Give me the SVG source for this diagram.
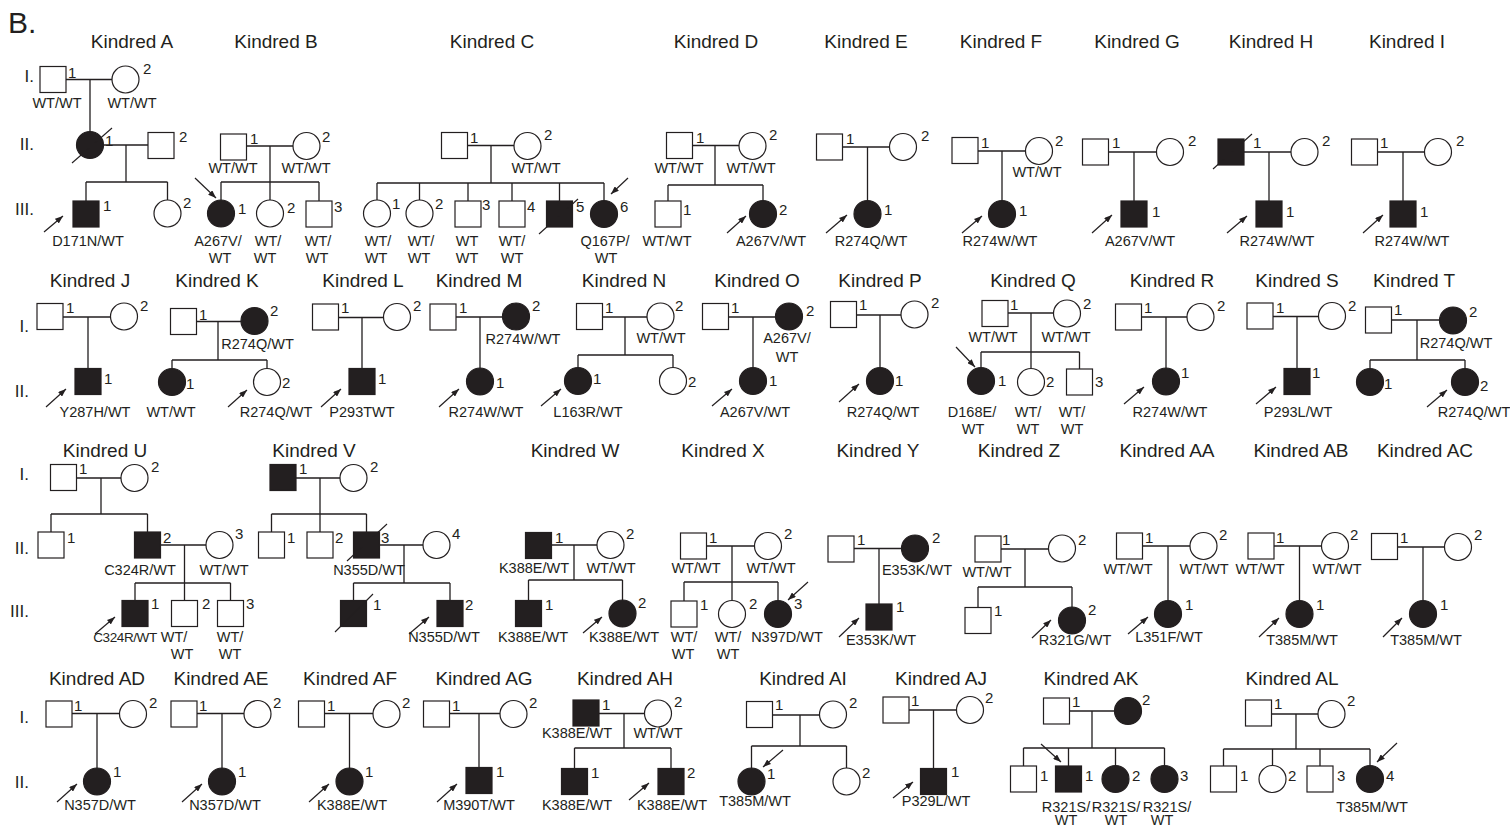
<svg xmlns="http://www.w3.org/2000/svg" width="1510" height="827" viewBox="0 0 1510 827">
<defs>
<style>
.s{fill:#fff;stroke:#231f20;stroke-width:1.2}
.f{fill:#231f20;stroke:#231f20;stroke-width:1.2}
.l{stroke:#231f20;stroke-width:1.3;fill:none}
.d{stroke:#231f20;stroke-width:1.1;fill:none}
.a{stroke:#231f20;stroke-width:1.2;fill:none;marker-end:url(#ah)}
text{font-family:"Liberation Sans",Arial,sans-serif;fill:#231f20}
.t{font-size:19px;text-anchor:middle}
.g{font-size:14.5px;text-anchor:middle}
.n{font-size:15px}
.v{font-size:17px;text-anchor:end}
</style>
<marker id="ah" markerWidth="8" markerHeight="6" refX="8" refY="3" orient="auto" markerUnits="userSpaceOnUse"><path d="M0,0 L8,3 L0,6 z" fill="#231f20"/></marker>
</defs>
<rect width="1510" height="827" fill="#fff"/>

<g id="labels">
<text x="8" y="33" style="font-size:30px">B.</text>
<text class="v" x="34" y="82">I.</text><text class="v" x="34" y="150">II.</text><text class="v" x="34" y="215">III.</text>
<text class="v" x="29" y="332">I.</text><text class="v" x="29" y="397">II.</text>
<text class="v" x="29" y="480">I.</text><text class="v" x="29" y="554">II.</text><text class="v" x="29" y="617">III.</text>
<text class="v" x="29" y="723">I.</text><text class="v" x="29" y="788">II.</text>
<text class="t" x="132" y="48">Kindred A</text><text class="t" x="276" y="48">Kindred B</text><text class="t" x="492" y="48">Kindred C</text><text class="t" x="716" y="48">Kindred D</text><text class="t" x="866" y="48">Kindred E</text><text class="t" x="1001" y="48">Kindred F</text><text class="t" x="1137" y="48">Kindred G</text><text class="t" x="1271" y="48">Kindred H</text><text class="t" x="1407" y="48">Kindred I</text>
<text class="t" x="90" y="287">Kindred J</text><text class="t" x="217" y="287">Kindred K</text><text class="t" x="363" y="287">Kindred L</text><text class="t" x="479" y="287">Kindred M</text><text class="t" x="624" y="287">Kindred N</text><text class="t" x="757" y="287">Kindred O</text><text class="t" x="880" y="287">Kindred P</text><text class="t" x="1033" y="287">Kindred Q</text><text class="t" x="1172" y="287">Kindred R</text><text class="t" x="1297" y="287">Kindred S</text><text class="t" x="1414" y="287">Kindred T</text>
<text class="t" x="105" y="457">Kindred U</text><text class="t" x="314" y="457">Kindred V</text><text class="t" x="575" y="457">Kindred W</text><text class="t" x="723" y="457">Kindred X</text><text class="t" x="878" y="457">Kindred Y</text><text class="t" x="1019" y="457">Kindred Z</text><text class="t" x="1167" y="457">Kindred AA</text><text class="t" x="1301" y="457">Kindred AB</text><text class="t" x="1425" y="457">Kindred AC</text>
<text class="t" x="97" y="685">Kindred AD</text><text class="t" x="221" y="685">Kindred AE</text><text class="t" x="350" y="685">Kindred AF</text><text class="t" x="484" y="685">Kindred AG</text><text class="t" x="625" y="685">Kindred AH</text><text class="t" x="803" y="685">Kindred AI</text><text class="t" x="941" y="685">Kindred AJ</text><text class="t" x="1091" y="685">Kindred AK</text><text class="t" x="1292" y="685">Kindred AL</text>
</g>

<g id="connectors">
<path class="l" d="M66 79.5H112M90 79.5V131.5M103.5 145H148M126 145V182M86 182H167.5M86 182V201M167.5 182V200"/>
<path class="l" d="M246.5 146H293M270 146V182M221 182H319M221 182V200M270 182V200M319 182V201"/>
<path class="l" d="M467.5 145.5H514M491 145.5V183M377 183H604M377 183V200M419.5 183V200M468 183V201M512 183V201M559.5 183V201M604 183V200.5"/>
<path class="l" d="M692.5 145.5H739M715 145.5V185M668 185H763M668 185V201M763 185V200.5"/>
<path class="l" d="M842.5 147H889.5M867.5 147V200.5"/>
<path class="l" d="M978 151H1025.5M1002 151V200.5"/>
<path class="l" d="M1108.5 152H1156.5M1134 152V201"/>
<path class="l" d="M1244 152H1291M1269 152V201"/>
<path class="l" d="M1377.5 152H1424.5M1403 152V201"/>
<path class="l" d="M63 317H110.5M88 317V368.5"/>
<path class="l" d="M196.5 321.5H241M218 321.5V360M172 360H267M172 360V368.5M267 360V368.5"/>
<path class="l" d="M338.5 317.5H383.5M362 317.5V368.5"/>
<path class="l" d="M456 317H502.5M480 317V368"/>
<path class="l" d="M602.5 317H647M625 317V355M578 355H673M578 355V367.5M673 355V367.5"/>
<path class="l" d="M728.5 317H775.5M753 317V367.5"/>
<path class="l" d="M856.5 315H901M880 315V367.5"/>
<path class="l" d="M1008 313H1053.5M1031 313V368.5M981 352H1079.5M981 352V367.5M1079.5 352V369"/>
<path class="l" d="M1141.5 317H1187M1166 317V368"/>
<path class="l" d="M1273 316.5H1318.5M1297 316.5V368.5"/>
<path class="l" d="M1391.5 320H1439.5M1417 320V360M1370 360H1465M1370 360V368.5M1465 360V368.5"/>
<path class="l" d="M76.5 478H121M101 478V514M51 514H147.5M51 514V532M147.5 514V532M160.5 545H206M184.5 545V600.5M135 583H230.5M135 583V600.5M230.5 583V600.5"/>
<path class="l" d="M296 478H340M320 478V532M271.5 514H366.5M271.5 514V532M366.5 514V532M379.5 545H423M404 545V583M353.5 583H450M353.5 583V600.5M450 583V600.5"/>
<path class="l" d="M551.5 545H597M574 545V580M528.5 580H622.5M528.5 580V600.5M622.5 580V600"/>
<path class="l" d="M706.5 546H754.5M732 546V600.5M684 582H778M684 582V601M778 582V600.5"/>
<path class="l" d="M854 548.5H901.5M879 548.5V604"/>
<path class="l" d="M1001 549H1048.5M1025 549V587M978 587H1072M978 587V607.5M1072 587V607"/>
<path class="l" d="M1142.5 546H1190M1168 546V600.5"/>
<path class="l" d="M1274 546H1321.5M1299.5 546V600.5"/>
<path class="l" d="M1397.5 547H1444.5M1423 547V600.5"/>
<path class="l" d="M72 713.5H119.5M97 713.5V768"/>
<path class="l" d="M197 713.5H244M222 713.5V768"/>
<path class="l" d="M324.5 713.5H373M349.5 713.5V768"/>
<path class="l" d="M449.5 713.5H500M479 713.5V767.5"/>
<path class="l" d="M599 713.5H644.5M624 713.5V748M574.5 748H671M574.5 748V768.5M671 748V768.5"/>
<path class="l" d="M772.5 715H819.5M800 715V746M751.5 746H846.5M751.5 746V768M846.5 746V768"/>
<path class="l" d="M909 710H956.5M933.5 710V768.5"/>
<path class="l" d="M1069.5 711H1114.5M1092 711V748M1023.5 748H1164.5M1023.5 748V766M1068.5 748V766M1115.5 748V765.5M1164.5 748V765.5"/>
<path class="l" d="M1271.5 714H1318M1296 714V749M1223.5 749H1370M1223.5 749V766M1272.5 749V765.5M1320 749V766M1370 749V765.5"/>
<g id="arrows">
<line class="a" x1="44" y1="232" x2="63" y2="216"/><line class="a" x1="195" y1="178" x2="216" y2="198"/><line class="a" x1="628" y1="178" x2="611" y2="194"/><line class="a" x1="727" y1="233" x2="746" y2="216"/><line class="a" x1="826" y1="233" x2="847" y2="215"/><line class="a" x1="962" y1="233" x2="982" y2="216"/><line class="a" x1="1092" y1="233" x2="1112" y2="215"/><line class="a" x1="1227" y1="233" x2="1247" y2="216"/><line class="a" x1="1363" y1="233" x2="1383" y2="215"/>
<line class="a" x1="46" y1="407" x2="66" y2="389"/><line class="a" x1="228" y1="407" x2="247" y2="390"/><line class="a" x1="321" y1="407" x2="341" y2="389"/><line class="a" x1="439" y1="407" x2="459" y2="389"/><line class="a" x1="541" y1="406" x2="561" y2="389"/><line class="a" x1="712" y1="406" x2="732" y2="389"/><line class="a" x1="839" y1="402" x2="859" y2="384"/><line class="a" x1="956" y1="347" x2="975" y2="367"/><line class="a" x1="1124" y1="404" x2="1144" y2="387"/><line class="a" x1="1256" y1="404" x2="1276" y2="387"/><line class="a" x1="1427" y1="407" x2="1447" y2="390"/>
<line class="a" x1="95" y1="634" x2="115" y2="617"/><line class="a" x1="409" y1="634" x2="429" y2="617"/><line class="a" x1="583" y1="633" x2="602" y2="617"/><line class="a" x1="808" y1="582" x2="788" y2="600"/><line class="a" x1="839" y1="637" x2="859" y2="618"/><line class="a" x1="1032" y1="638" x2="1051" y2="620"/><line class="a" x1="1128" y1="634" x2="1148" y2="617"/><line class="a" x1="1259" y1="637" x2="1279" y2="618"/><line class="a" x1="1383" y1="637" x2="1402" y2="618"/>
<line class="a" x1="57" y1="802" x2="77" y2="784"/><line class="a" x1="182" y1="802" x2="202" y2="784"/><line class="a" x1="309" y1="802" x2="329" y2="784"/><line class="a" x1="437" y1="802" x2="457" y2="784"/><line class="a" x1="629" y1="800" x2="649" y2="783"/><line class="a" x1="783" y1="750" x2="763" y2="767"/><line class="a" x1="893" y1="798" x2="913" y2="782"/><line class="a" x1="1041" y1="744" x2="1061" y2="762"/><line class="a" x1="1397" y1="743" x2="1377" y2="762"/>
</g>
</g>

<g id="nodes">
<!-- Kindred A -->
<g id="A-I1"><rect class="s" x="40" y="66.5" width="26" height="26"/><text class="n" x="68" y="78">1</text><text class="g" x="57" y="108">WT/WT</text></g>
<g id="A-I2"><circle class="s" cx="125.5" cy="79.5" r="13.5"/><text class="n" x="143" y="74">2</text><text class="g" x="132" y="108">WT/WT</text></g>
<g id="A-II1"><circle class="f" cx="90" cy="145" r="13.5"/><line class="d" x1="72" y1="163" x2="112" y2="128"/><text class="n" x="105" y="146">1</text></g>
<g id="A-II2"><rect class="s" x="148" y="132.5" width="26" height="26"/><text class="n" x="179" y="142">2</text></g>
<g id="A-III1"><rect class="f" x="73" y="201" width="26" height="26"/><text class="n" x="103" y="211">1</text><text class="g" x="88" y="246">D171N/WT</text></g>
<g id="A-III2"><circle class="s" cx="167.5" cy="213.5" r="13.5"/><text class="n" x="183" y="208">2</text></g>
<!-- Kindred B -->
<g id="B-II1"><rect class="s" x="220.5" y="134" width="26" height="26"/><text class="n" x="250" y="144">1</text><text class="g" x="233" y="173">WT/WT</text></g>
<g id="B-II2"><circle class="s" cx="306.5" cy="146" r="13.5"/><text class="n" x="322" y="142">2</text><text class="g" x="306" y="173">WT/WT</text></g>
<g id="B-III1"><circle class="f" cx="221" cy="213.5" r="13.5"/><text class="n" x="238" y="214">1</text><text class="g" x="218" y="246">A267V/</text><text class="g" x="220" y="263">WT</text></g>
<g id="B-III2"><circle class="s" cx="270" cy="213.5" r="13.5"/><text class="n" x="287" y="213">2</text><text class="g" x="268" y="246">WT/</text><text class="g" x="265" y="263">WT</text></g>
<g id="B-III3"><rect class="s" x="306" y="201" width="26" height="26"/><text class="n" x="334" y="212">3</text><text class="g" x="318" y="246">WT/</text><text class="g" x="317" y="263">WT</text></g>
<!-- Kindred C -->
<g id="C-II1"><rect class="s" x="441.5" y="132.5" width="26" height="26"/><text class="n" x="470" y="143">1</text></g>
<g id="C-II2"><circle class="s" cx="527.5" cy="146" r="13.5"/><text class="n" x="544" y="140">2</text><text class="g" x="536" y="173">WT/WT</text></g>
<g id="C-III1"><circle class="s" cx="377" cy="213.5" r="13.5"/><text class="n" x="392" y="209">1</text><text class="g" x="378" y="246">WT/</text><text class="g" x="376" y="263">WT</text></g>
<g id="C-III2"><circle class="s" cx="419.5" cy="213.5" r="13.5"/><text class="n" x="435" y="209">2</text><text class="g" x="421" y="246">WT/</text><text class="g" x="419" y="263">WT</text></g>
<g id="C-III3"><rect class="s" x="455" y="201" width="26" height="26"/><text class="n" x="482" y="210">3</text><text class="g" x="467" y="246">WT</text><text class="g" x="467" y="263">WT</text></g>
<g id="C-III4"><rect class="s" x="499" y="201" width="26" height="26"/><text class="n" x="527" y="212">4</text><text class="g" x="512" y="246">WT/</text><text class="g" x="512" y="263">WT</text></g>
<g id="C-III5"><rect class="f" x="546.5" y="201" width="26" height="26"/><line class="d" x1="539" y1="234" x2="578" y2="199"/><text class="n" x="576" y="212">5</text></g>
<g id="C-III6"><circle class="f" cx="604" cy="214" r="13.5"/><text class="n" x="620" y="212">6</text><text class="g" x="605" y="246">Q167P/</text><text class="g" x="606" y="263">WT</text></g>
<!-- Kindred D -->
<g id="D-II1"><rect class="s" x="666.5" y="132.5" width="26" height="26"/><text class="n" x="696" y="143">1</text><text class="g" x="679" y="173">WT/WT</text></g>
<g id="D-II2"><circle class="s" cx="752.5" cy="146" r="13.5"/><text class="n" x="769" y="140">2</text><text class="g" x="751" y="173">WT/WT</text></g>
<g id="D-III1"><rect class="s" x="655" y="201" width="26" height="26"/><text class="n" x="683" y="215">1</text><text class="g" x="667" y="246">WT/WT</text></g>
<g id="D-III2"><circle class="f" cx="763" cy="214" r="13.5"/><text class="n" x="779" y="215">2</text><text class="g" x="771" y="246">A267V/WT</text></g>
<!-- Kindred E -->
<g id="E-II1"><rect class="s" x="816.5" y="134" width="26" height="26"/><text class="n" x="846" y="144">1</text></g>
<g id="E-II2"><circle class="s" cx="903" cy="147" r="13.5"/><text class="n" x="921" y="141">2</text></g>
<g id="E-III1"><circle class="f" cx="867.5" cy="214" r="13.5"/><text class="n" x="884" y="215">1</text><text class="g" x="871" y="246">R274Q/WT</text></g>
<!-- Kindred F -->
<g id="F-II1"><rect class="s" x="952" y="137.5" width="26" height="26"/><text class="n" x="981" y="148">1</text></g>
<g id="F-II2"><circle class="s" cx="1039" cy="151" r="13.5"/><text class="n" x="1055" y="146">2</text><text class="g" x="1037" y="177">WT/WT</text></g>
<g id="F-III1"><circle class="f" cx="1002" cy="214" r="13.5"/><text class="n" x="1019" y="216">1</text><text class="g" x="1000" y="246">R274W/WT</text></g>
<!-- Kindred G -->
<g id="G-II1"><rect class="s" x="1082.5" y="139" width="26" height="26"/><text class="n" x="1112" y="148">1</text></g>
<g id="G-II2"><circle class="s" cx="1170" cy="152" r="13.5"/><text class="n" x="1188" y="146">2</text></g>
<g id="G-III1"><rect class="f" x="1121" y="201" width="26" height="26"/><text class="n" x="1152" y="217">1</text><text class="g" x="1140" y="246">A267V/WT</text></g>
<!-- Kindred H -->
<g id="H-II1"><rect class="f" x="1218" y="139" width="26" height="26"/><line class="d" x1="1213" y1="169" x2="1252" y2="134"/><text class="n" x="1253" y="148">1</text></g>
<g id="H-II2"><circle class="s" cx="1304.5" cy="152" r="13.5"/><text class="n" x="1322" y="146">2</text></g>
<g id="H-III1"><rect class="f" x="1256" y="201" width="26" height="26"/><text class="n" x="1286" y="217">1</text><text class="g" x="1277" y="246">R274W/WT</text></g>
<!-- Kindred I -->
<g id="I-II1"><rect class="s" x="1351.5" y="139" width="26" height="26"/><text class="n" x="1380" y="148">1</text></g>
<g id="I-II2"><circle class="s" cx="1438" cy="152" r="13.5"/><text class="n" x="1456" y="146">2</text></g>
<g id="I-III1"><rect class="f" x="1390" y="201" width="26" height="26"/><text class="n" x="1420" y="217">1</text><text class="g" x="1412" y="246">R274W/WT</text></g>
<!-- Kindred J -->
<g id="J-I1"><rect class="s" x="37" y="303.5" width="26" height="26"/><text class="n" x="66" y="313">1</text></g>
<g id="J-I2"><circle class="s" cx="124" cy="316.5" r="13.5"/><text class="n" x="140" y="311">2</text></g>
<g id="J-II1"><rect class="f" x="75" y="368.5" width="26" height="26"/><text class="n" x="104" y="384">1</text><text class="g" x="95" y="417">Y287H/WT</text></g>
<!-- Kindred K -->
<g id="K-I1"><rect class="s" x="170.5" y="308.5" width="26" height="26"/><text class="n" x="199" y="320">1</text></g>
<g id="K-I2"><circle class="f" cx="254.5" cy="321" r="13.5"/><text class="n" x="270" y="316">2</text><text class="g" x="257.5" y="349">R274Q/WT</text></g>
<g id="K-II1"><circle class="f" cx="172" cy="382" r="13.5"/><text class="n" x="186" y="389">1</text><text class="g" x="171" y="417">WT/WT</text></g>
<g id="K-II2"><circle class="s" cx="267" cy="382" r="13.5"/><text class="n" x="282" y="388">2</text><text class="g" x="276" y="417">R274Q/WT</text></g>
<!-- Kindred L -->
<g id="L-I1"><rect class="s" x="312.5" y="304" width="26" height="26"/><text class="n" x="341" y="313">1</text></g>
<g id="L-I2"><circle class="s" cx="397" cy="317" r="13.5"/><text class="n" x="413" y="311">2</text></g>
<g id="L-II1"><rect class="f" x="349" y="368.5" width="26" height="26"/><text class="n" x="378" y="384">1</text><text class="g" x="362" y="417">P293TWT</text></g>
<!-- Kindred M -->
<g id="M-I1"><rect class="s" x="430" y="304" width="26" height="26"/><text class="n" x="459" y="313">1</text></g>
<g id="M-I2"><circle class="f" cx="516" cy="316.5" r="13.5"/><text class="n" x="532" y="311">2</text><text class="g" x="523" y="344">R274W/WT</text></g>
<g id="M-II1"><circle class="f" cx="480" cy="381.5" r="13.5"/><text class="n" x="496" y="388">1</text><text class="g" x="486" y="417">R274W/WT</text></g>
<!-- Kindred N -->
<g id="N-I1"><rect class="s" x="576.5" y="303.5" width="26" height="26"/><text class="n" x="605" y="313">1</text></g>
<g id="N-I2"><circle class="s" cx="660.5" cy="316.5" r="13.5"/><text class="n" x="675" y="311">2</text><text class="g" x="661" y="343">WT/WT</text></g>
<g id="N-II1"><circle class="f" cx="578" cy="381" r="13.5"/><text class="n" x="593" y="384">1</text><text class="g" x="588" y="417">L163R/WT</text></g>
<g id="N-II2"><circle class="s" cx="673" cy="381" r="13.5"/><text class="n" x="688" y="387">2</text></g>
<!-- Kindred O -->
<g id="O-I1"><rect class="s" x="702.5" y="303.5" width="26" height="26"/><text class="n" x="731" y="313">1</text></g>
<g id="O-I2"><circle class="f" cx="789" cy="316.5" r="13.5"/><text class="n" x="806" y="316">2</text><text class="g" x="787" y="343">A267V/</text><text class="g" x="787" y="362">WT</text></g>
<g id="O-II1"><circle class="f" cx="753" cy="381" r="13.5"/><text class="n" x="769" y="386">1</text><text class="g" x="755" y="417">A267V/WT</text></g>
<!-- Kindred P -->
<g id="P-I1"><rect class="s" x="830.5" y="301.5" width="26" height="26"/><text class="n" x="859" y="310">1</text></g>
<g id="P-I2"><circle class="s" cx="914.5" cy="314.5" r="13.5"/><text class="n" x="931" y="308">2</text></g>
<g id="P-II1"><circle class="f" cx="880" cy="381" r="13.5"/><text class="n" x="895" y="386">1</text><text class="g" x="883" y="417">R274Q/WT</text></g>
<!-- Kindred Q -->
<g id="Q-I1"><rect class="s" x="982" y="300.5" width="26" height="26"/><text class="n" x="1010" y="310">1</text><text class="g" x="993" y="342">WT/WT</text></g>
<g id="Q-I2"><circle class="s" cx="1067" cy="313.5" r="13.5"/><text class="n" x="1083" y="309">2</text><text class="g" x="1066" y="342">WT/WT</text></g>
<g id="Q-II1"><circle class="f" cx="981" cy="381" r="13.5"/><text class="n" x="998" y="386">1</text><text class="g" x="972" y="417">D168E/</text><text class="g" x="973" y="434">WT</text></g>
<g id="Q-II2"><circle class="s" cx="1031" cy="382" r="13.5"/><text class="n" x="1046" y="387">2</text><text class="g" x="1028" y="417">WT/</text><text class="g" x="1028" y="434">WT</text></g>
<g id="Q-II3"><rect class="s" x="1066.5" y="369" width="26" height="26"/><text class="n" x="1095" y="387">3</text><text class="g" x="1072" y="417">WT/</text><text class="g" x="1072" y="434">WT</text></g>
<!-- Kindred R -->
<g id="R-I1"><rect class="s" x="1115.5" y="304" width="26" height="26"/><text class="n" x="1144" y="313">1</text></g>
<g id="R-I2"><circle class="s" cx="1200.5" cy="317" r="13.5"/><text class="n" x="1217" y="311">2</text></g>
<g id="R-II1"><circle class="f" cx="1166" cy="381.5" r="13.5"/><text class="n" x="1181" y="378">1</text><text class="g" x="1170" y="417">R274W/WT</text></g>
<!-- Kindred S -->
<g id="S-I1"><rect class="s" x="1247" y="303" width="26" height="26"/><text class="n" x="1276" y="313">1</text></g>
<g id="S-I2"><circle class="s" cx="1332" cy="316" r="13.5"/><text class="n" x="1348" y="311">2</text></g>
<g id="S-II1"><rect class="f" x="1284" y="368.5" width="26" height="26"/><text class="n" x="1312" y="378">1</text><text class="g" x="1298" y="417">P293L/WT</text></g>
<!-- Kindred T -->
<g id="T-I1"><rect class="s" x="1365.5" y="307" width="26" height="26"/><text class="n" x="1394" y="315">1</text></g>
<g id="T-I2"><circle class="f" cx="1453" cy="320.5" r="13.5"/><text class="n" x="1469" y="317">2</text><text class="g" x="1456" y="348">R274Q/WT</text></g>
<g id="T-II1"><circle class="f" cx="1370" cy="382" r="13.5"/><text class="n" x="1384" y="389">1</text></g>
<g id="T-II2"><circle class="f" cx="1465" cy="382" r="13.5"/><text class="n" x="1480" y="391">2</text><text class="g" x="1474" y="417">R274Q/WT</text></g>
<!-- Kindred U -->
<g id="U-I1"><rect class="s" x="50.5" y="464.5" width="26" height="26"/><text class="n" x="79" y="474">1</text></g>
<g id="U-I2"><circle class="s" cx="134.5" cy="478" r="13.5"/><text class="n" x="151" y="472">2</text></g>
<g id="U-II1"><rect class="s" x="38" y="532" width="26" height="26"/><text class="n" x="67" y="543">1</text></g>
<g id="U-II2"><rect class="f" x="134.5" y="532" width="26" height="26"/><text class="n" x="163" y="543">2</text><text class="g" x="140" y="575">C324R/WT</text></g>
<g id="U-II3"><circle class="s" cx="219.5" cy="545" r="13.5"/><text class="n" x="235" y="539">3</text><text class="g" x="224" y="575">WT/WT</text></g>
<g id="U-III1"><rect class="f" x="122" y="600.5" width="26" height="26"/><text class="n" x="151" y="609">1</text><text class="g" x="125" y="642" style="font-size:13.5px;letter-spacing:-0.4px">C324R/WT</text></g>
<g id="U-III2"><rect class="s" x="171.5" y="600.5" width="26" height="26"/><text class="n" x="202" y="609">2</text><text class="g" x="174" y="642">WT/</text><text class="g" x="182" y="659">WT</text></g>
<g id="U-III3"><rect class="s" x="217.5" y="600.5" width="26" height="26"/><text class="n" x="246" y="609">3</text><text class="g" x="230" y="642">WT/</text><text class="g" x="230" y="659">WT</text></g>
<!-- Kindred V -->
<g id="V-I1"><rect class="f" x="270" y="464.5" width="26" height="26"/><text class="n" x="299" y="474">1</text></g>
<g id="V-I2"><circle class="s" cx="353.5" cy="478" r="13.5"/><text class="n" x="370" y="472">2</text></g>
<g id="V-II1"><rect class="s" x="258.5" y="532" width="26" height="26"/><text class="n" x="287" y="543">1</text></g>
<g id="V-II2"><rect class="s" x="307" y="532" width="26" height="26"/><text class="n" x="335" y="543">2</text></g>
<g id="V-II3"><rect class="f" x="353.5" y="532" width="26" height="26"/><line class="d" x1="347" y1="561" x2="387" y2="524"/><text class="n" x="381" y="543">3</text><text class="g" x="369" y="575">N355D/WT</text></g>
<g id="V-II4"><circle class="s" cx="436.5" cy="545" r="13.5"/><text class="n" x="452" y="539">4</text></g>
<g id="V-III1"><rect class="f" x="340.5" y="600.5" width="26" height="26"/><line class="d" x1="335" y1="632" x2="373" y2="594"/><text class="n" x="373" y="610">1</text></g>
<g id="V-III2"><rect class="f" x="437" y="600.5" width="26" height="26"/><text class="n" x="465" y="610">2</text><text class="g" x="444" y="642">N355D/WT</text></g>
<!-- Kindred W -->
<g id="W-I1"><rect class="f" x="525.5" y="532.5" width="26" height="26"/><text class="n" x="555" y="543">1</text><text class="g" x="534" y="573">K388E/WT</text></g>
<g id="W-I2"><circle class="s" cx="610.5" cy="545" r="13.5"/><text class="n" x="626" y="539">2</text><text class="g" x="611" y="573">WT/WT</text></g>
<g id="W-II1"><rect class="f" x="515.5" y="600.5" width="26" height="26"/><text class="n" x="545" y="610">1</text><text class="g" x="533" y="642">K388E/WT</text></g>
<g id="W-II2"><circle class="f" cx="622.5" cy="613.5" r="13.5"/><text class="n" x="638" y="608">2</text><text class="g" x="624" y="642">K388E/WT</text></g>
<!-- Kindred X -->
<g id="X-I1"><rect class="s" x="680.5" y="533" width="26" height="26"/><text class="n" x="709" y="543">1</text><text class="g" x="696" y="573">WT/WT</text></g>
<g id="X-I2"><circle class="s" cx="768" cy="546" r="13.5"/><text class="n" x="784" y="539">2</text><text class="g" x="771" y="573">WT/WT</text></g>
<g id="X-II1"><rect class="s" x="671" y="601" width="26" height="26"/><text class="n" x="700" y="610">1</text><text class="g" x="684" y="642">WT/</text><text class="g" x="683" y="659">WT</text></g>
<g id="X-II2"><circle class="s" cx="732" cy="614" r="13.5"/><text class="n" x="749" y="609">2</text><text class="g" x="728" y="642">WT/</text><text class="g" x="728" y="659">WT</text></g>
<g id="X-II3"><circle class="f" cx="778" cy="614" r="13.5"/><text class="n" x="794" y="609">3</text><text class="g" x="787" y="642">N397D/WT</text></g>
<!-- Kindred Y -->
<g id="Y-I1"><rect class="s" x="828" y="536" width="26" height="26"/><text class="n" x="857" y="545">1</text></g>
<g id="Y-I2"><circle class="f" cx="915" cy="548.5" r="13.5"/><text class="n" x="932" y="543">2</text><text class="g" x="917" y="575">E353K/WT</text></g>
<g id="Y-II1"><rect class="f" x="866" y="604" width="26" height="26"/><text class="n" x="896" y="612">1</text><text class="g" x="881" y="645">E353K/WT</text></g>
<!-- Kindred Z -->
<g id="Z-I1"><rect class="s" x="975" y="536" width="26" height="26"/><text class="n" x="1002" y="545">1</text><text class="g" x="987" y="577">WT/WT</text></g>
<g id="Z-I2"><circle class="s" cx="1062" cy="548.5" r="13.5"/><text class="n" x="1078" y="545">2</text></g>
<g id="Z-II1"><rect class="s" x="965" y="607.5" width="26" height="26"/><text class="n" x="994" y="616">1</text></g>
<g id="Z-II2"><circle class="f" cx="1072" cy="620.5" r="13.5"/><text class="n" x="1088" y="615">2</text><text class="g" x="1075" y="645">R321G/WT</text></g>
<!-- Kindred AA -->
<g id="AA-I1"><rect class="s" x="1116.5" y="533" width="26" height="26"/><text class="n" x="1145" y="543">1</text><text class="g" x="1128" y="574">WT/WT</text></g>
<g id="AA-I2"><circle class="s" cx="1203.5" cy="546" r="13.5"/><text class="n" x="1219" y="540">2</text><text class="g" x="1204" y="574">WT/WT</text></g>
<g id="AA-II1"><circle class="f" cx="1168" cy="614" r="13.5"/><text class="n" x="1185" y="610">1</text><text class="g" x="1169" y="642">L351F/WT</text></g>
<!-- Kindred AB -->
<g id="AB-I1"><rect class="s" x="1248" y="533" width="26" height="26"/><text class="n" x="1276" y="543">1</text><text class="g" x="1260" y="574">WT/WT</text></g>
<g id="AB-I2"><circle class="s" cx="1335" cy="546" r="13.5"/><text class="n" x="1350" y="540">2</text><text class="g" x="1337" y="574">WT/WT</text></g>
<g id="AB-II1"><circle class="f" cx="1299.5" cy="614" r="13.5"/><text class="n" x="1316" y="610">1</text><text class="g" x="1302" y="645">T385M/WT</text></g>
<!-- Kindred AC -->
<g id="AC-I1"><rect class="s" x="1371.5" y="533.5" width="26" height="26"/><text class="n" x="1400" y="543">1</text></g>
<g id="AC-I2"><circle class="s" cx="1458" cy="547" r="13.5"/><text class="n" x="1474" y="540">2</text></g>
<g id="AC-II1"><circle class="f" cx="1423" cy="614" r="13.5"/><text class="n" x="1440" y="610">1</text><text class="g" x="1426" y="645">T385M/WT</text></g>
<!-- Kindred AD -->
<g id="AD-I1"><rect class="s" x="46" y="701" width="26" height="26"/><text class="n" x="74" y="711">1</text></g>
<g id="AD-I2"><circle class="s" cx="133" cy="714" r="13.5"/><text class="n" x="149" y="708">2</text></g>
<g id="AD-II1"><circle class="f" cx="97" cy="781.5" r="13.5"/><text class="n" x="113" y="777">1</text><text class="g" x="100" y="810">N357D/WT</text></g>
<!-- Kindred AE -->
<g id="AE-I1"><rect class="s" x="171" y="701" width="26" height="26"/><text class="n" x="199" y="711">1</text></g>
<g id="AE-I2"><circle class="s" cx="257.5" cy="714" r="13.5"/><text class="n" x="273" y="708">2</text></g>
<g id="AE-II1"><circle class="f" cx="222" cy="781.5" r="13.5"/><text class="n" x="238" y="777">1</text><text class="g" x="225" y="810">N357D/WT</text></g>
<!-- Kindred AF -->
<g id="AF-I1"><rect class="s" x="298.5" y="701" width="26" height="26"/><text class="n" x="327" y="711">1</text></g>
<g id="AF-I2"><circle class="s" cx="386.5" cy="714" r="13.5"/><text class="n" x="402" y="708">2</text></g>
<g id="AF-II1"><circle class="f" cx="349.5" cy="781.5" r="13.5"/><text class="n" x="365" y="777">1</text><text class="g" x="352" y="810">K388E/WT</text></g>
<!-- Kindred AG -->
<g id="AG-I1"><rect class="s" x="423.5" y="701" width="26" height="26"/><text class="n" x="452" y="711">1</text></g>
<g id="AG-I2"><circle class="s" cx="513.5" cy="714" r="13.5"/><text class="n" x="529" y="708">2</text></g>
<g id="AG-II1"><rect class="f" x="466" y="767.5" width="26" height="26"/><text class="n" x="496" y="777">1</text><text class="g" x="479" y="810">M390T/WT</text></g>
<!-- Kindred AH -->
<g id="AH-I1"><rect class="f" x="573" y="700" width="26" height="26"/><text class="n" x="602" y="710">1</text><text class="g" x="577" y="738">K388E/WT</text></g>
<g id="AH-I2"><circle class="s" cx="658" cy="713.5" r="13.5"/><text class="n" x="674" y="707">2</text><text class="g" x="658" y="738">WT/WT</text></g>
<g id="AH-II1"><rect class="f" x="561.5" y="768.5" width="26" height="26"/><text class="n" x="591" y="778">1</text><text class="g" x="577" y="810">K388E/WT</text></g>
<g id="AH-II2"><rect class="f" x="658" y="768.5" width="26" height="26"/><text class="n" x="687" y="778">2</text><text class="g" x="672" y="810">K388E/WT</text></g>
<!-- Kindred AI -->
<g id="AI-I1"><rect class="s" x="746.5" y="701.5" width="26" height="26"/><text class="n" x="775" y="710">1</text></g>
<g id="AI-I2"><circle class="s" cx="833" cy="714.5" r="13.5"/><text class="n" x="849" y="708">2</text></g>
<g id="AI-II1"><circle class="f" cx="751.5" cy="781.5" r="13.5"/><text class="n" x="767" y="779">1</text><text class="g" x="755" y="806">T385M/WT</text></g>
<g id="AI-II2"><circle class="s" cx="846.5" cy="781.5" r="13.5"/><text class="n" x="862" y="778">2</text></g>
<!-- Kindred AJ -->
<g id="AJ-I1"><rect class="s" x="883" y="697" width="26" height="26"/><text class="n" x="911" y="706">1</text></g>
<g id="AJ-I2"><circle class="s" cx="970" cy="710" r="13.5"/><text class="n" x="985" y="703">2</text></g>
<g id="AJ-II1"><rect class="f" x="920.5" y="768.5" width="26" height="26"/><text class="n" x="951" y="777">1</text><text class="g" x="936" y="806">P329L/WT</text></g>
<!-- Kindred AK -->
<g id="AK-I1"><rect class="s" x="1043.5" y="698" width="26" height="26"/><text class="n" x="1072" y="707">1</text></g>
<g id="AK-I2"><circle class="f" cx="1128" cy="711" r="13.5"/><text class="n" x="1142" y="705">2</text></g>
<g id="AK-II1"><rect class="s" x="1010.5" y="766" width="26" height="26"/><text class="n" x="1040" y="781">1</text></g>
<g id="AK-II2"><rect class="f" x="1055.5" y="766" width="26" height="26"/><text class="n" x="1085" y="781">1</text><text class="g" x="1066" y="812">R321S/</text><text class="g" x="1066" y="825">WT</text></g>
<g id="AK-II3"><circle class="f" cx="1115.5" cy="779" r="13.5"/><text class="n" x="1132" y="781">2</text><text class="g" x="1116" y="812">R321S/</text><text class="g" x="1116" y="825">WT</text></g>
<g id="AK-II4"><circle class="f" cx="1164.5" cy="779" r="13.5"/><text class="n" x="1180" y="781">3</text><text class="g" x="1167" y="812">R321S/</text><text class="g" x="1162" y="825">WT</text></g>
<!-- Kindred AL -->
<g id="AL-I1"><rect class="s" x="1245.5" y="700" width="26" height="26"/><text class="n" x="1274" y="709">1</text></g>
<g id="AL-I2"><circle class="s" cx="1331.5" cy="714" r="13.5"/><text class="n" x="1347" y="706">2</text></g>
<g id="AL-II1"><rect class="s" x="1210.5" y="766" width="26" height="26"/><text class="n" x="1240" y="781">1</text></g>
<g id="AL-II2"><circle class="s" cx="1272.5" cy="779" r="13.5"/><text class="n" x="1288" y="781">2</text></g>
<g id="AL-II3"><rect class="s" x="1307" y="766" width="26" height="26"/><text class="n" x="1337" y="781">3</text></g>
<g id="AL-II4"><circle class="f" cx="1370" cy="779" r="13.5"/><text class="n" x="1386" y="781">4</text><text class="g" x="1372" y="812">T385M/WT</text></g>
</g>
</svg>
